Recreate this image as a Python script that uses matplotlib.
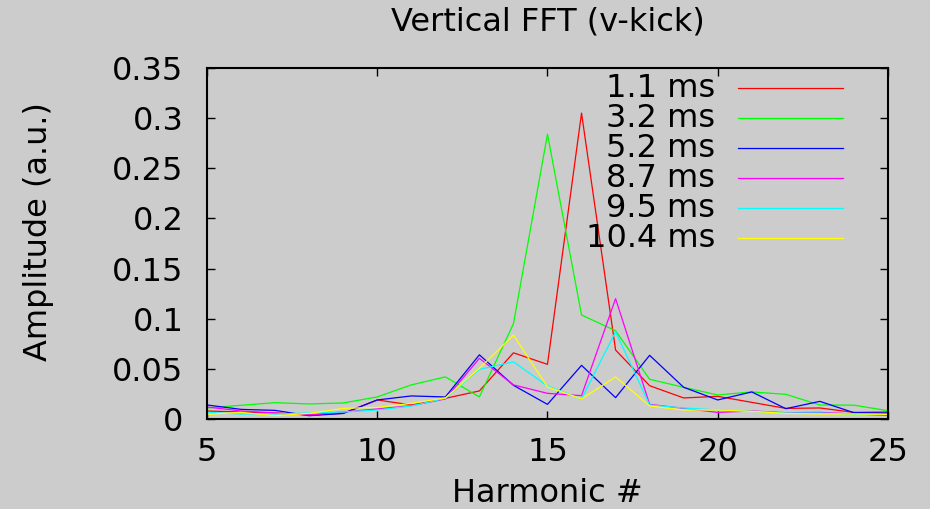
import matplotlib
matplotlib.use("Agg")
import matplotlib.pyplot as plt
from matplotlib.ticker import FormatStrFormatter

# Harmonic number on the x axis
harmonics = list(range(5, 26))

# FFT amplitude per kick time
amp_1_1 = [0.008, 0.007, 0.006, 0.004, 0.0056, 0.019, 0.014, 0.0206, 0.028, 0.066, 0.0545,
           0.305, 0.0688, 0.0332, 0.021, 0.0226, 0.0166, 0.0106, 0.011, 0.0066, 0.007]
amp_3_2 = [0.011, 0.0137, 0.0163, 0.015, 0.016, 0.022, 0.034, 0.042, 0.022, 0.095, 0.284,
           0.1037, 0.088, 0.0396, 0.0316, 0.024, 0.027, 0.0246, 0.014, 0.0138, 0.0083]
amp_5_2 = [0.014, 0.0096, 0.0086, 0.0033, 0.0056, 0.019, 0.023, 0.022, 0.064, 0.0336, 0.0146,
           0.0535, 0.0213, 0.0635, 0.0316, 0.019, 0.027, 0.0103, 0.0176, 0.0063, 0.006]
amp_8_7 = [0.012, 0.008, 0.006, 0.004, 0.007, 0.010, 0.0133, 0.020, 0.0605, 0.034, 0.0256,
           0.0233, 0.120, 0.0146, 0.0106, 0.0066, 0.008, 0.0063, 0.0066, 0.005, 0.0037]
amp_9_5 = [0.0066, 0.005, 0.005, 0.006, 0.007, 0.009, 0.013, 0.0206, 0.0495, 0.057, 0.033,
           0.020, 0.087, 0.014, 0.011, 0.009, 0.0076, 0.006, 0.006, 0.0046, 0.0046]
amp_10_4 = [0.0047, 0.0066, 0.0033, 0.0056, 0.0106, 0.0116, 0.0156, 0.021, 0.0505, 0.0837, 0.032,
            0.020, 0.042, 0.013, 0.009, 0.009, 0.0076, 0.0056, 0.005, 0.005, 0.0046]

labels = ["1.1 ms", "3.2 ms", "5.2 ms", "8.7 ms", "9.5 ms", "10.4 ms"]
series = [amp_1_1, amp_3_2, amp_5_2, amp_8_7, amp_9_5, amp_10_4]
colors = ["#ff0000", "#00ff00", "#0000ff", "#ff00ff", "#00ffff", "#ffff00"]

x_ticks = [5, 10, 15, 20, 25]
y_ticks = [0, 0.05, 0.1, 0.15, 0.2, 0.25, 0.3, 0.35]

plt.rcParams["font.family"] = ["DejaVu Sans"]
fs = 23

fig = plt.figure(figsize=(9.3, 5.09), dpi=100, facecolor="#cccccc")
ax = fig.add_axes([0.2226, 0.1768, 0.7322, 0.6896])
ax.set_facecolor("#cccccc")

for vals, col in zip(series, colors):
    ax.plot(harmonics, vals, color=col, lw=0.9)

ax.set_xlim(5, 25)
ax.set_ylim(0, 0.35)
ax.set_xticks(x_ticks)
ax.set_yticks(y_ticks)
ax.yaxis.set_major_formatter(FormatStrFormatter("%g"))
ax.tick_params(direction="in", length=6, width=1, top=True, right=True,
               labelsize=fs, colors="black")
ax.tick_params(axis="y", pad=17)
ax.tick_params(axis="x", pad=13)
for sp in ax.spines.values():
    sp.set_linewidth(1.5)

# key in the upper right, text right-justified before each sample line
for i, (lab, col) in enumerate(zip(labels, colors)):
    y = 0.942 - i * 0.0855
    ax.text(0.746, y, lab, transform=ax.transAxes, ha="right", va="center", fontsize=fs)
    ax.plot([0.780, 0.934], [y, y], transform=ax.transAxes, color=col, lw=0.9)

fig.text(0.589, 1 - 22 / 509, "Vertical FFT (v-kick)", ha="center", va="center", fontsize=fs)
fig.text(0.589, 1 - 493 / 509, "Harmonic #", ha="center", va="center", fontsize=fs)
fig.text(38 / 930, 1 - 232 / 509, "Amplitude (a.u.)", ha="center", va="center",
         rotation=90, fontsize=fs)

fig.savefig("out.png", dpi=100, facecolor="#cccccc")
